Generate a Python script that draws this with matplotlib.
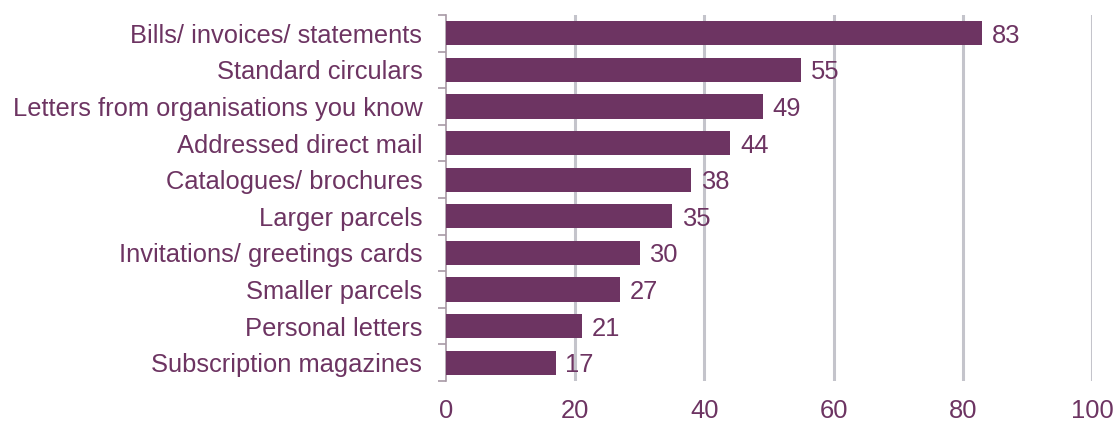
import matplotlib
matplotlib.use("Agg")
import matplotlib.pyplot as plt
import numpy as np

categories = [
    "Bills/ invoices/ statements",
    "Standard circulars",
    "Letters from organisations you know",
    "Addressed direct mail",
    "Catalogues/ brochures",
    "Larger parcels",
    "Invitations/ greetings cards",
    "Smaller parcels",
    "Personal letters",
    "Subscription magazines",
]
values = [83, 55, 49, 44, 38, 35, 30, 27, 21, 17]
xticks = [0, 20, 40, 60, 80, 100]

BAR = "#6d3462"
TEXT = "#6d3462"
GRID = "#c4c4cb"
FS = 18.4

plt.rcParams["font.family"] = ["Liberation Sans", "DejaVu Sans"]

fig = plt.figure(figsize=(11.16, 4.21), dpi=100)
ax = fig.add_axes([0.3996, 0.095, 0.5789, 0.8694])

y = np.arange(len(categories))
ax.barh(y, values, height=0.66, color=BAR, zorder=3)
for yi, v in zip(y, values):
    ax.text(v + 1.5, yi, str(v), va="center_baseline", ha="left",
            fontsize=FS, color=TEXT, zorder=4)

ax.set_ylim(len(categories) - 0.5, -0.5)
ax.set_xlim(0, 100)
ax.set_yticks(y)
ax.set_yticklabels(categories, fontsize=FS, color=TEXT)
ax.set_yticks(np.arange(-0.5, len(categories)), minor=True)
ax.tick_params(axis="y", which="major", length=0, pad=17)
ax.tick_params(axis="y", which="minor", length=6, width=1.2, color="#a89aa6")

ax.set_xticks(xticks)
ax.set_xticklabels([str(t) for t in xticks], fontsize=FS, color=TEXT)
ax.tick_params(axis="x", length=0, pad=13)

for t in xticks[1:]:
    ax.axvline(t, color=GRID, lw=2.2, zorder=1)

for s in ["top", "right", "bottom"]:
    ax.spines[s].set_visible(False)
ax.spines["left"].set_color("#a89aa6")
ax.spines["left"].set_linewidth(1.2)

fig.savefig("out.png", dpi=100)
